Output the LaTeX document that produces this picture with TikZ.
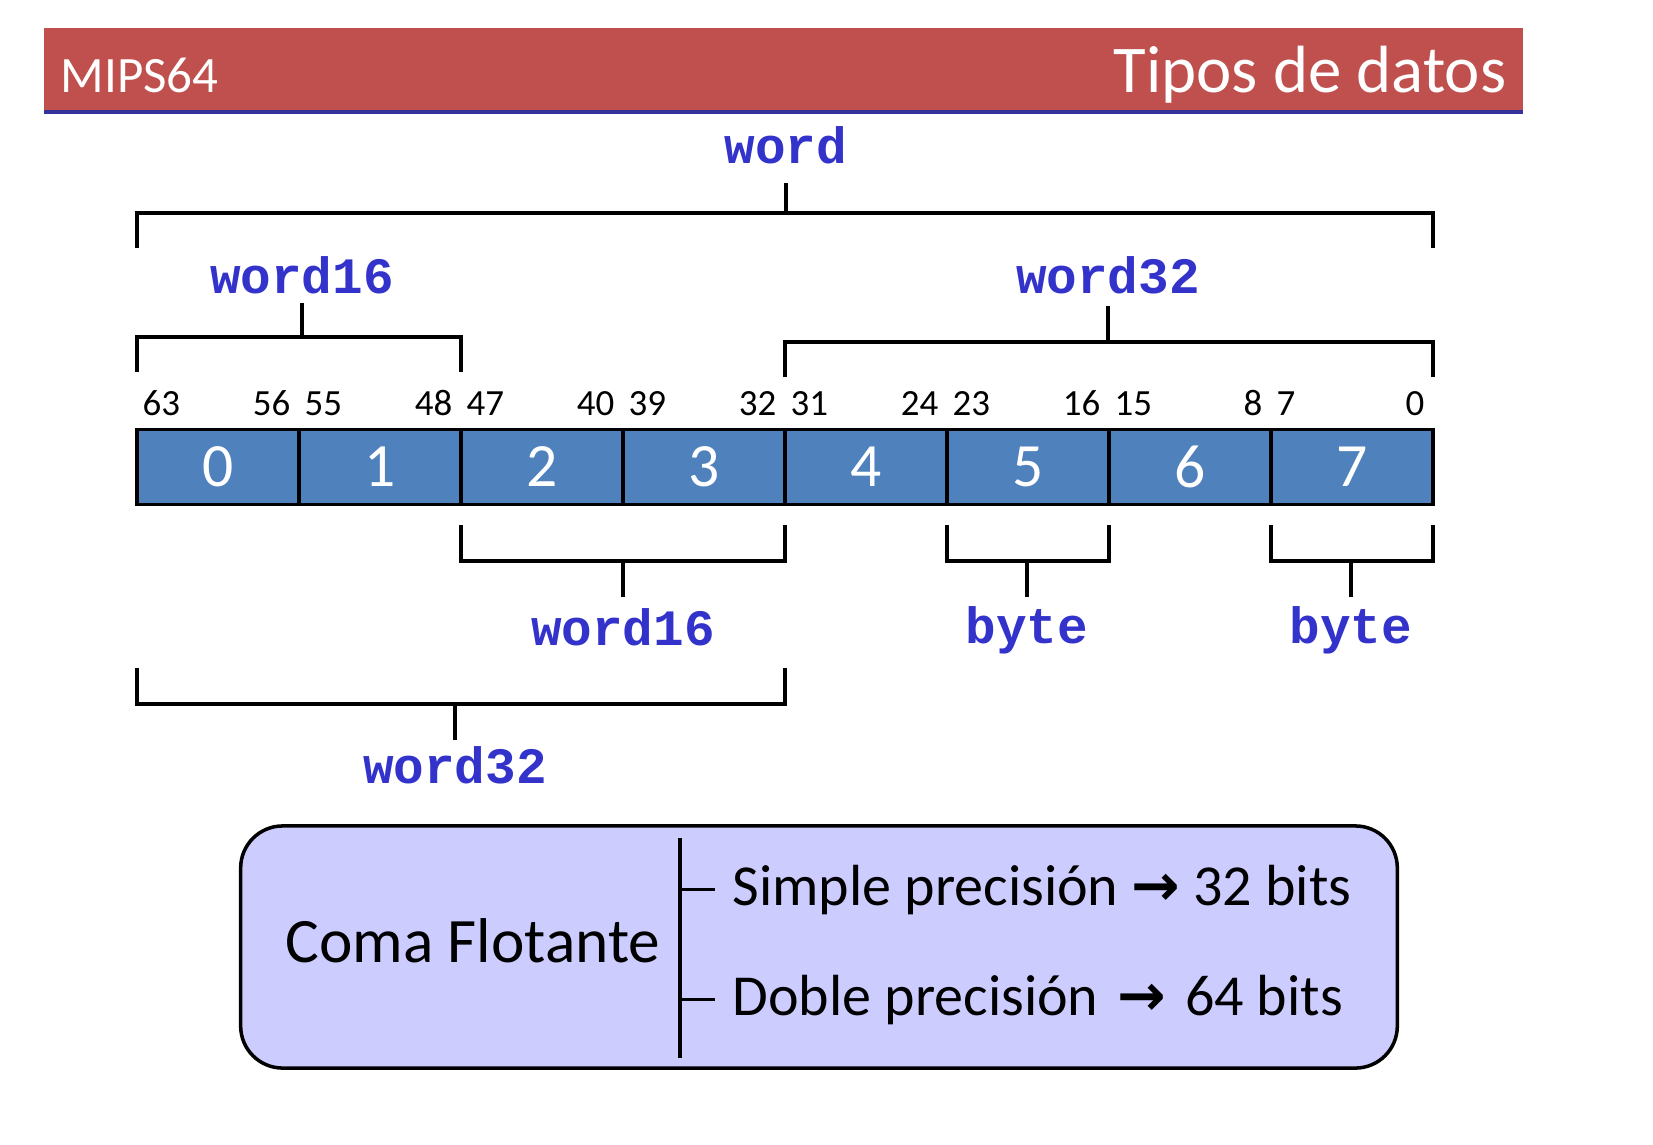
\documentclass[tikz,border=0pt]{standalone}
\usepackage{fontspec}
\setmainfont{Carlito}
\setmonofont{Liberation Mono}
\newfontfamily\arrowfont{DejaVu Sans}
\usetikzlibrary{calc,positioning}
\definecolor{headRed}{RGB}{192,80,77}
\definecolor{headBlue}{RGB}{51,51,153}
\definecolor{byteBlue}{RGB}{79,129,189}
\definecolor{typeBlue}{RGB}{51,51,204}
\definecolor{floatFill}{RGB}{204,204,255}
\tikzset{
  cell/.style={draw, line width=1pt, fill=byteBlue, text=white, minimum width=1.619cm, minimum height=0.75cm, inner sep=0pt, outer sep=0pt, font=\fontsize{17.5}{17}\selectfont},
  bitno/.style={inner sep=0pt, font=\fontsize{10.5}{11}\selectfont},
  typeTag/.style={inner sep=0pt, anchor=base, text=typeBlue, font=\ttfamily\bfseries\fontsize{14.5}{15}\selectfont},
  brk/.style={line width=0.9pt},
  floatBox/.style={draw, line width=1pt, fill=floatFill, rounded corners=0.42cm, minimum width=11.56cm, minimum height=2.42cm},
  floatText/.style={inner sep=0pt, anchor=base west, font=\fontsize{16.5}{17}\selectfont},
  headText/.style={inner sep=0pt, text=white}
}
\newcommand{\DrawBracket}[6]{% left, right, bar y, leg y, tag, stem end y
  \draw[brk] (#1 |- 0,#4) -- (#1 |- 0,#3) -- (#2 |- 0,#3) -- (#2 |- 0,#4);
  \draw[brk] (#5 |- 0,#6) -- (#5 |- 0,#3);
}
\newcommand{\toarrow}{{\arrowfont\bfseries →}}

\begin{document}
\begin{tikzpicture}[x=0.01cm, y=-0.01cm]
  \useasboundingbox (0,0) rectangle (1653,1144);
  % header bar
  \fill[headRed] (44,28) rectangle (1523,110);
  \fill[headBlue] (44,110) rectangle (1523,114);
  \node[headText, anchor=base west, font=\fontsize{14.5}{14}\selectfont] (arch) at (60,92) {MIPS64};
  \node[headText, anchor=base east, font=\fontsize{19}{19}\selectfont] (title) at (1507,92) {Tipos de datos};
  % the eight bytes
  \node[cell] (c0) at (218,467) {0};
  \foreach \i [count=\j from 0] in {1,...,7}
    \node[cell, right=0pt of c\j] (c\i) {\i};
  % bit numbers
  \foreach \i in {0,...,7}{%
    \pgfmathtruncatemacro{\hi}{63-8*\i}%
    \pgfmathtruncatemacro{\lo}{56-8*\i}%
    \node[bitno, anchor=base west] (hi\i) at ($(c\i.west |- 0,415)+(5,0)$) {\hi};
    \node[bitno, anchor=base east] (lo\i) at ($(c\i.east |- 0,415)+(-8,0)$) {\lo};
  }
  % type names
  \node[typeTag] (tWord) at (786,163) {word};
  \node[typeTag] (tWordA) at (302,293) {word16};
  \node[typeTag] (tWordB) at (1108,293) {word32};
  \node[typeTag] (tHalf) at (623,645) {word16};
  \node[typeTag] (tByteA) at (1027,643) {byte};
  \node[typeTag] (tByteB) at (1351,643) {byte};
  \node[typeTag] (tWordC) at (455,783) {word32};
  % brackets above
  \DrawBracket{c0.west}{c7.east}{213}{248}{tWord}{183}
  \DrawBracket{c0.west}{c1.east}{337}{372}{tWordA}{303}
  \DrawBracket{c4.west}{c7.east}{342}{377}{tWordB}{306}
  % brackets below
  \DrawBracket{c2.west}{c3.east}{561}{525}{tHalf}{597}
  \DrawBracket{c5.west}{c5.east}{561}{525}{tByteA}{597}
  \DrawBracket{c7.west}{c7.east}{561}{525}{tByteB}{597}
  \DrawBracket{c0.west}{c3.east}{704}{668}{tWordC}{740}
  % floating point box
  \node[floatBox] (fp) at (819,947) {};
  \coordinate (divTop) at (680,838);
  \coordinate (divBot) at (680,1058);
  \draw[brk] (divTop) -- (divBot);
  \node[floatText, anchor=base, font=\fontsize{18}{18}\selectfont] (coma) at (473,962) {Coma Flotante};
  \node[floatText] (simple) at (732,905) {Simple precisión \toarrow{} 32 bits};
  \node[floatText] (doble) at (732,1015) {Doble precisión\hspace{0.1em} \toarrow\hspace{0.1em} 64 bits};
  \draw[brk] (divTop |- simple.west) -- ([xshift=-4.8pt]simple.west);
  \draw[brk] (divTop |- doble.west) -- ([xshift=-4.8pt]doble.west);
\end{tikzpicture}
\end{document}
